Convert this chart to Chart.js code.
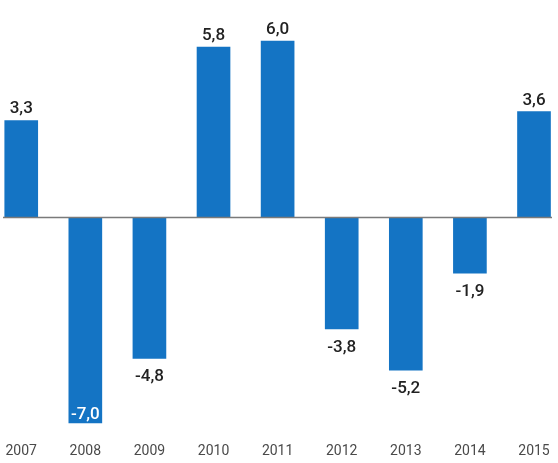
<!DOCTYPE html>
<html>
<head>
<meta charset="utf-8">
<script src="https://cdn.jsdelivr.net/npm/chart.js@4.4.1/dist/chart.umd.min.js"></script>
<style>
  html, body { margin: 0; padding: 0; background: #fff; }
  #wrap { width: 558px; height: 463px; }
</style>
</head>
<body>
<div id="wrap"><canvas id="barrasPib"></canvas></div>
<script>
const ctx = 'barrasPib';

// datos
var anos = ["2007", "2008", "2009", "2010", "2011", "2012", "2013", "2014", "2015"];
var valores = [3.3, -7.0, -4.8, 5.8, 6.0, -3.8, -5.2, -1.9, 3.6];
var etiquetas = ["3,3", "-7,0", "-4,8", "5,8", "6,0", "-3,8", "-5,2", "-1,9", "3,6"];

const fuente = 'Roboto, "Liberation Sans", sans-serif';

// linea del cero
const lineaCero = {
    id: 'lineaCero',
    afterDatasetsDraw(chart) {
        const c = chart.ctx;
        const y = Math.round(chart.scales.y.getPixelForValue(0)) + 0.5;
        c.save();
        c.strokeStyle = '#7a7a7a';
        c.lineWidth = 1.5;
        c.beginPath();
        c.moveTo(3, y);
        c.lineTo(552, y);
        c.stroke();
        c.restore();
    }
};

// valores sobre/bajo las barras
const rotulos = {
    id: 'rotulos',
    afterDraw(chart) {
        const c = chart.ctx;
        const meta = chart.getDatasetMeta(0);
        c.save();
        c.font = '500 17px ' + fuente;
        c.textAlign = 'center';
        c.textBaseline = 'alphabetic';
        meta.data.forEach(function (bar, i) {
            const v = valores[i];
            if (v >= 0) {
                c.fillStyle = '#222';
                c.fillText(etiquetas[i], bar.x, bar.y - 7);
            } else if (bar.y + 32 > chart.chartArea.bottom) {
                c.fillStyle = '#fff';
                c.fillText(etiquetas[i], bar.x, bar.y - 4);
            } else {
                c.fillStyle = '#222';
                c.fillText(etiquetas[i], bar.x, bar.y + 23);
            }
        });
        c.restore();
    }
};

const barrasPib = new Chart(ctx, {
    type: 'bar',
    data: {
        labels: anos,
        datasets: [{
            data: valores,
            backgroundColor: '#1474c4',
            borderWidth: 0,
            barThickness: 33,
            clip: false
        }]
    },
    options: {
        responsive: true,
        maintainAspectRatio: false,
        animation: false,
        layout: {
            padding: { top: 26.5, bottom: -2.5, left: 20, right: 24 }
        },
        plugins: {
            legend: { display: false },
            title: { display: false },
            tooltip: { enabled: false }
        },
        scales: {
            x: {
                offset: false,
                grid: { display: false, drawTicks: false },
                border: { display: false },
                ticks: {
                    color: '#4a4a4a',
                    padding: 5.5,
                    autoSkip: false,
                    maxRotation: 0,
                    font: { family: fuente, size: 14 }
                }
            },
            y: {
                display: false,
                min: -7.5,
                max: 6.5
            }
        }
    },
    plugins: [lineaCero, rotulos]
});
</script>
</body>
</html>
